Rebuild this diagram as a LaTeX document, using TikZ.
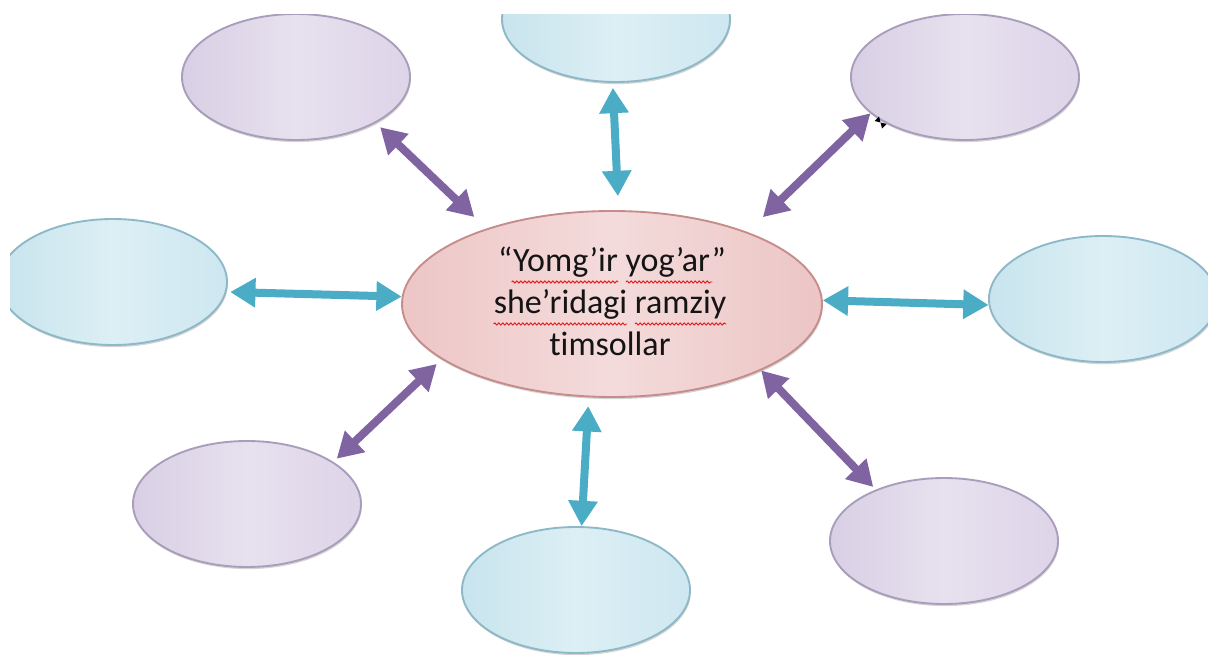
\documentclass[tikz,border=0pt]{standalone}
\usepackage{fontspec}
\setmainfont{Carlito}[Ligatures={NoCommon,NoContextual}]
\usetikzlibrary{arrows.meta,shapes.geometric,decorations.pathmorphing,shadows,calc}
\definecolor{arrPurple}{HTML}{8064A2}
\definecolor{arrTeal}{HTML}{4BACC6}
\definecolor{purpleL}{HTML}{D8CFE4}
\definecolor{purpleM}{HTML}{E7E1EF}
\definecolor{purpleR}{HTML}{DDD4E8}
\definecolor{purpleEdge}{HTML}{A99DBB}
\definecolor{tealL}{HTML}{C8E4ED}
\definecolor{tealM}{HTML}{DCEFF5}
\definecolor{tealR}{HTML}{CEE7F0}
\definecolor{tealEdge}{HTML}{8DB8C7}
\definecolor{pinkL}{HTML}{EDC6C6}
\definecolor{pinkM}{HTML}{F4DBDB}
\definecolor{pinkR}{HTML}{ECC5C5}
\definecolor{pinkEdge}{HTML}{C58C8B}
\definecolor{txtGray}{HTML}{141414}
\definecolor{spellRed}{HTML}{E02020}
\begin{document}
\begin{tikzpicture}[x=0.75pt,y=-0.75pt,
  bubble/.style={ellipse, inner sep=0pt, line width=1.4pt,
    minimum width=171pt, minimum height=94.5pt,
    drop shadow={shadow xshift=0.6pt, shadow yshift=-1.6pt, opacity=0.3, fill=black!55}},
  pbub/.style={bubble, draw=purpleEdge, left color=purpleL, right color=purpleR, middle color=purpleM},
  tbub/.style={bubble, draw=tealEdge, left color=tealL, right color=tealR, middle color=tealM},
  cbub/.style={bubble, draw=pinkEdge, left color=pinkL, right color=pinkR, middle color=pinkM,
    minimum width=315pt, minimum height=139.5pt},
  biarrow/.style={line width=6pt, {Triangle[width=21pt,length=19pt]}-{Triangle[width=21pt,length=19pt]}},
  parr/.style={biarrow, draw=arrPurple, fill=arrPurple},
  tarr/.style={biarrow, draw=arrTeal, fill=arrTeal},
  txt/.style={anchor=base, inner sep=0pt, text=txtGray, font=\fontsize{25.5}{30}\selectfont},
  wavy/.style={draw=spellRed, line width=0.7pt, decorate,
    decoration={snake, amplitude=0.8pt, segment length=3pt}}
]
\useasboundingbox (0,0) rectangle (1208,655);
\fill[white] (0,0) rectangle (1208,655);

\begin{scope}
  \clip (10,15) rectangle (1208,655);
  \node[pbub] (tl) at (296,77) {};
  \node[tbub] (t)  at (616,19) {};
  \node[pbub] (tr) at (965,77) {};
  \node[tbub] (l)  at (113,282) {};
  \node[tbub] (r)  at (1103,299) {};
  \node[pbub] (bl) at (247,504) {};
  \node[tbub] (b)  at (576,590) {};
  \node[pbub] (br) at (944,541) {};
  \node[cbub] (c)  at (612,304) {};
\end{scope}

% text
\node[txt] (l1) at (612,272) {“Yomg’ir yog’ar”};
\node[txt] (l2) at (610,314) {she’ridagi ramziy};
\node[txt] (l3) at (610,356) {timsollar};

% spell-check underlines
\draw[wavy] ($(l1.base west)!0.06!(l1.base east)+(0,10)$) -- ($(l1.base west)!0.527!(l1.base east)+(0,10)$);
\draw[wavy] ($(l1.base west)!0.561!(l1.base east)+(0,10)$) -- ($(l1.base west)!0.94!(l1.base east)+(0,10)$);
\draw[wavy] ($(l2.base west)+(0,10)$) -- ($(l2.base west)!0.574!(l2.base east)+(0,10)$);
\draw[wavy] ($(l2.base west)!0.607!(l2.base east)+(0,10)$) -- ($(l2.base east)+(0,10)$);

% connectors
\draw[parr, shorten <=4.5pt, shorten >=12.5pt] (tl.-30) -- (c.149);
\draw[tarr, shorten <=3.7pt, shorten >=10.5pt] (t.-93) -- (c.86);
\draw[parr, shorten >=16pt] (tr.201) -- (c.28);
\draw[tarr, shorten <=2.7pt] (l.-5) -- (c.178);
\draw[tarr] (c.1.5) -- (r.183.5);
\draw[parr, shorten <=5pt, shorten >=3.4pt] (c.198) -- (bl.26);
\draw[tarr, shorten <=6.6pt] (c.-104) -- (b.85);
\draw[parr, shorten >=2.7pt] (c.-24.5) -- (br.143.5);

% small cursor glyph near the upper right bubble
\coordinate (cur) at (880.5,122.5);
\fill[black] (cur) -- ($(cur)+(-6,-1.5)$) -- ($(cur)+(-1.5,-6)$) -- cycle;
\fill[black] (cur) -- ($(cur)+(6,1.5)$) -- ($(cur)+(1.5,6)$) -- cycle;
\end{tikzpicture}
\end{document}
